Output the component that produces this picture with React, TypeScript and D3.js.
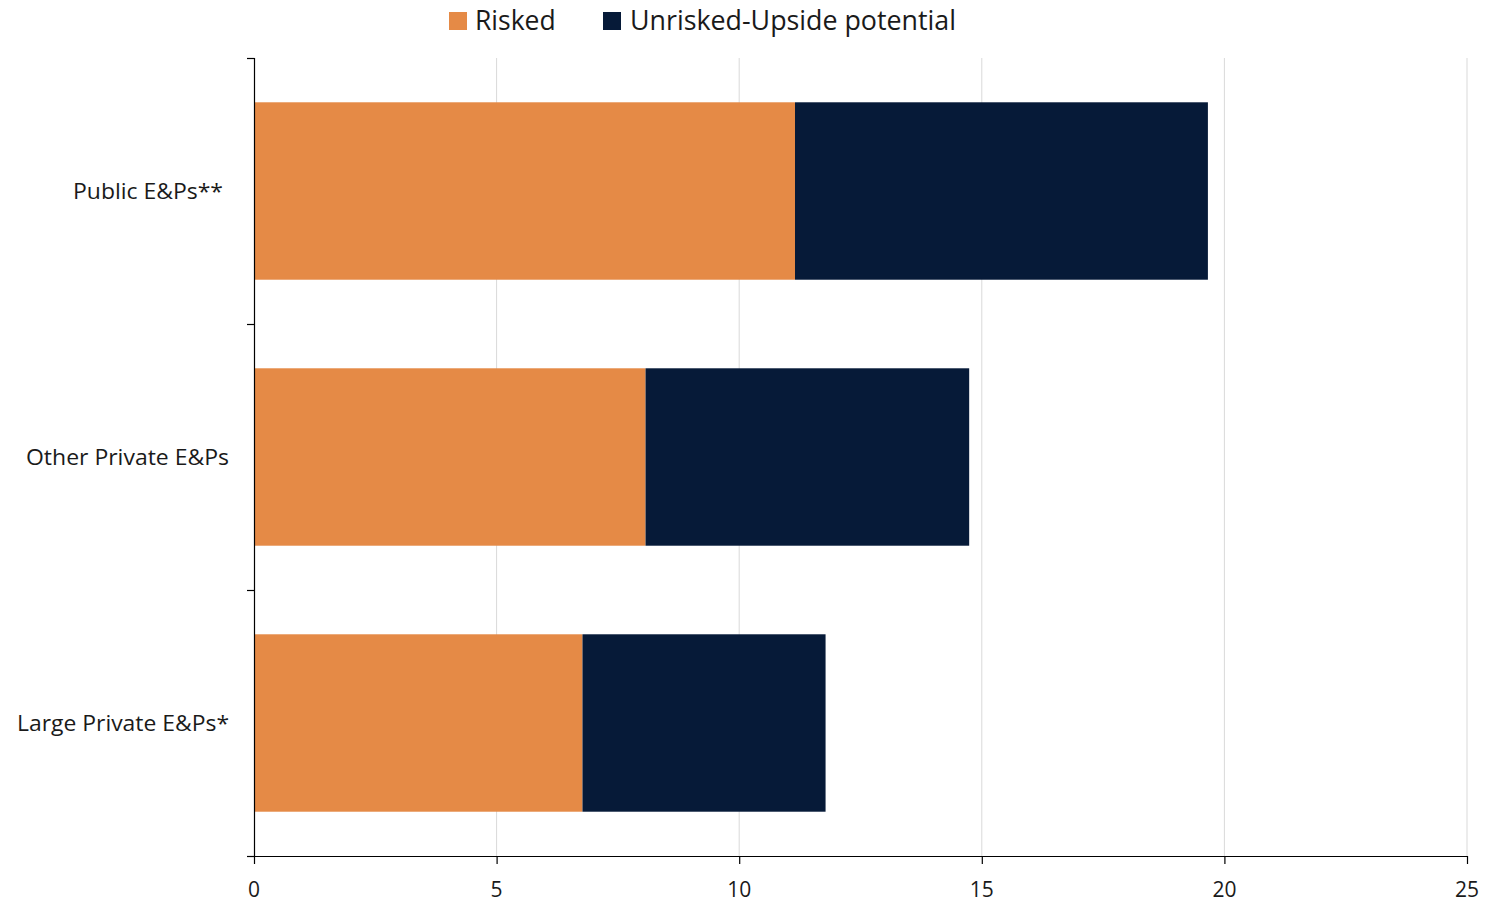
import React from "react";
import * as d3 from "d3";

const categories = ["Public E&Ps**", "Other Private E&Ps", "Large Private E&Ps*"];
const risked = [11.15, 8.07, 6.77];
const unrisked = [8.51, 6.67, 5.01];
const seriesNames = ["Risked", "Unrisked-Upside potential"];
const colors = ["#E58A46", "#061A38"];
const xTicks = [0, 5, 10, 15, 20, 25];

const W = 1486;
const H = 903;
const FONT = "'Open Sans', 'Liberation Sans', sans-serif";

export default function App() {
  const x = d3.scaleLinear().domain([0, 25]).range([254, 1467]);
  const y = d3.scaleBand<string>().domain(categories).range([58, 856]).paddingInner(0.333).paddingOuter(0.1665);
  const band = d3.scaleBand<string>().domain(categories).range([58, 856]);
  const rows = categories.map((c, i) => ({ c, r: risked[i], u: unrisked[i] }));
  const stack = d3.stack<any>().keys(["r", "u"])(rows as any);

  return (
    <svg width={W} height={H} style={{ position: "absolute", left: 0, top: 0, background: "#fff" }} fontFamily={FONT}>
      {xTicks.filter((t) => t > 0).map((t) => (
        <line key={"g" + t} x1={x(t)} x2={x(t)} y1={58} y2={856} stroke="#D9D9D9" strokeWidth={1} />
      ))}
      {stack.map((s, si) =>
        s.map((d: any, i: number) => (
          <rect
            key={si + "-" + i}
            x={x(d[0])}
            width={x(d[1]) - x(d[0])}
            y={y(categories[i])}
            height={y.bandwidth()}
            fill={colors[si]}
          />
        ))
      )}
      <line x1={254.5} x2={254.5} y1={58} y2={857} stroke="#000" strokeWidth={1.2} />
      {[...categories.map((c) => band(c)!), 856].map((v, i) => (
        <line key={"yt" + i} x1={247} x2={254.5} y1={v + 0.5} y2={v + 0.5} stroke="#000" strokeWidth={1.2} />
      ))}
      {categories.map((c, i) => (
        <text key={c} x={i === 0 ? 223 : 229} y={band(c)! + band.bandwidth() / 2 + 8} textAnchor="end" fontSize={22.5} fill="#1a1a1a"
          textLength={i === 0 ? 150 : i === 1 ? 203 : 212} lengthAdjust="spacingAndGlyphs">
          {c}
        </text>
      ))}
      <line x1={247} x2={1467} y1={856.5} y2={856.5} stroke="#000" strokeWidth={1.2} />
      {xTicks.map((t) => (
        <g key={"xt" + t}>
          <line x1={x(t) + 0.5} x2={x(t) + 0.5} y1={856} y2={864} stroke="#000" strokeWidth={1.2} />
          <text x={x(t)} y={897} textAnchor="middle" fontSize={21} fill="#1a1a1a">
            {t}
          </text>
        </g>
      ))}
      <rect x={449} y={12} width={18} height={18} fill={colors[0]} />
      <text x={475} y={30} fontSize={26.5} fill="#1a1a1a">{seriesNames[0]}</text>
      <rect x={603} y={12} width={18} height={18} fill={colors[1]} />
      <text x={630} y={30} fontSize={26.5} fill="#1a1a1a" textLength={326} lengthAdjust="spacingAndGlyphs">{seriesNames[1]}</text>
    </svg>
  );
}
